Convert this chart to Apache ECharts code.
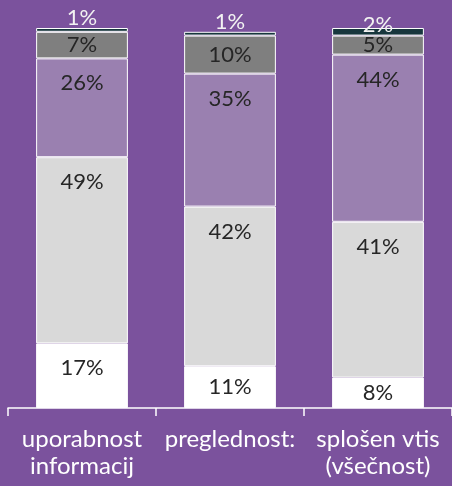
<!DOCTYPE html>
<html>
<head>
<meta charset="utf-8">
<script src="https://cdn.jsdelivr.net/npm/echarts@6/dist/echarts.min.js"></script>
<style>
html,body{margin:0;padding:0;background:#7b529d;}
#main{width:452px;height:486px;}
</style>
</head>
<body>
<div id="main"></div>
<script>
var categories = ['uporabnost\ninformacij', 'preglednost:', 'splošen vtis\n(všečnost)'];
// stacked from bottom to top
var level1 = [17, 11, 8];
var level2 = [49, 42, 41];
var level3 = [26, 35, 44];
var level4 = [7, 10, 5];
var level5 = [1, 1, 2];

var chart = echarts.init(document.getElementById('main'));

var colors = ['#ffffff', '#d9d9d9', '#9a80b0', '#7f7f7f', '#17363d'];
var levels = [level1, level2, level3, level4, level5];

function makeData(arr, idx) {
	return arr.map(function (v) {
		var lab;
		if (idx == 4) {
			// tiny top segment, label sits above the bar
			lab = {position: 'top', distance: v >= 2 ? -8 : -1, color: '#f2f2f2'};
		} else if (v >= 12) {
			lab = {position: 'insideTop', distance: 14};
		} else {
			lab = {position: 'inside'};
		}
		return {value: v, label: lab};
	});
}

var series = [];
for (var i = 0; i < levels.length; i++) {
	series.push({
		type: 'bar',
		stack: 'all',
		barWidth: '62%',
		data: makeData(levels[i], i),
		itemStyle: {
			color: colors[i],
			borderColor: '#ffffff',
			borderWidth: 1
		},
		label: {
			show: true,
			formatter: '{c}%',
			fontFamily: 'Lato',
			fontSize: 22,
			color: '#262626'
		}
	});
}

option = {
	backgroundColor: '#7b529d',
	animation: false,
	grid: {
		left: 8,
		right: -3,
		top: 28,
		bottom: 78
	},
	xAxis: {
		type: 'category',
		data: categories,
		axisLine: {lineStyle: {color: '#ffffff', width: 1.5}},
		axisTick: {show: true, length: 8, lineStyle: {color: '#ffffff', width: 1.5}},
		axisLabel: {
			interval: 0,
			hideOverlap: false,
			color: '#ffffff',
			fontFamily: 'Lato',
			fontSize: 24,
			lineHeight: 27,
			margin: 18
		}
	},
	yAxis: {
		type: 'value',
		min: 0,
		max: 100,
		show: false
	},
	series: series
};

chart.setOption(option);
</script>
</body>
</html>
